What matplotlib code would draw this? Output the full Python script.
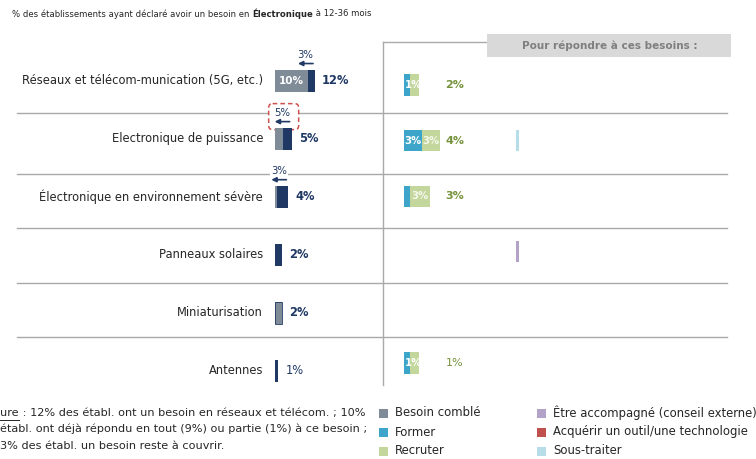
import matplotlib
matplotlib.use("Agg")
import matplotlib.pyplot as plt
from matplotlib.patches import Rectangle, FancyBboxPatch
from matplotlib.transforms import offset_copy

W, H = 756, 459
plt.rcParams['font.family'] = ['DejaVu Sans']

# ---- data -------------------------------------------------------------
categories = ["Réseaux et télécom-munication (5G, etc.)",
              "Electronique de puissance",
              "Électronique en environnement sévère",
              "Panneaux solaires",
              "Miniaturisation",
              "Antennes"]
besoin_comble = [10, 2.5, 0.7, 0, 2, 0]
besoin_restant = [2, 2.5, 3.3, 2, 0, 1]
besoin_total = [12, 5, 4, 2, 2, 1]
reste_a_couvrir = [3, 5, 3, None, None, None]

former = [1, 3, 1, 0, 0, 1]
recruter = [1.5, 3, 3.3, 0, 0, 1.5]
former_labels = ["1%", "3%", "", "", "", "1%"]
recruter_labels = ["", "3%", "3%", "", "", ""]
reponse_total = [2, 4, 3, None, None, 1]
accompagne = [0, 0, 0, 0.5, 0, 0]
acquerir = [0, 0, 0, 0, 0, 0]
sous_traiter = [0, 0.5, 0, 0, 0, 0]

legend_left = ["Besoin comblé", "Former", "Recruter"]
legend_right = ["Être accompagné (conseil externe)",
                "Acquérir un outil/une technologie", "Sous-traiter"]

# ---- colours ----------------------------------------------------------
GRAY = "#7f8b97"
NAVY = "#1f3864"
BLUE = "#3ca5c9"
GREEN = "#c3d69b"
LAV = "#b3a2c7"
RED = "#c0504d"
LBLUE = "#b7dee8"
OLIVE = "#76923c"
LINE = "#a9a9a9"
TXT = "#262626"

fig = plt.figure(figsize=(W / 100, H / 100), dpi=100)


def frac(x0, y0, x1, y1):
    return [x0 / W, 1 - y1 / H, (x1 - x0) / W, (y1 - y0) / H]


bg = fig.add_axes([0, 0, 1, 1])
bg.set_xlim(0, W)
bg.set_ylim(H, 0)
bg.axis("off")

n = len(categories)
rows = list(range(n))

# ---- left panel: needs ------------------------------------------------
axL = fig.add_axes(frac(275, 51.5, 375, 400))
axL.set_xlim(0, 30)
axL.set_ylim(n - 0.5, -0.5)
axL.axis("off")
bh = 0.38
axL.barh(rows, besoin_comble, height=bh, color=GRAY, zorder=3)
axL.barh(rows, besoin_restant, left=besoin_comble, height=bh, color=NAVY,
         zorder=3)
# the "Miniaturisation" bar carries a thin navy outline
axL.barh([4], [besoin_comble[4]], height=bh, facecolor="none",
         edgecolor=NAVY, linewidth=0.6, zorder=4)

for i, cat in enumerate(categories):
    axL.annotate(cat, xy=(0, i), xytext=(-12, 0), textcoords="offset pixels",
                 ha="right", va="center", fontsize=8.3, color=TXT)
    axL.annotate(f"{besoin_total[i]}%", xy=(besoin_total[i], i),
                 xytext=(7, 0), textcoords="offset pixels", ha="left",
                 va="center", fontsize=8.3, color=NAVY,
                 fontweight="normal" if besoin_total[i] == 1 else "bold")
    if besoin_comble[i] >= 5:
        axL.text(besoin_comble[i] / 2, i, f"{besoin_comble[i]}%",
                 ha="center", va="center", fontsize=7.5, color="white",
                 fontweight="bold", zorder=5)

# callouts: share of need still to cover
for i, r in enumerate(reste_a_couvrir):
    if r is None:
        continue
    tot = besoin_total[i]
    head = offset_copy(axL.transData, fig=fig, x=-17, y=17, units="dots")
    tail = offset_copy(axL.transData, fig=fig, x=-2, y=17, units="dots")
    axL.annotate("", xy=(tot, i), xycoords=head, xytext=(tot, i),
                 textcoords=tail,
                 arrowprops=dict(arrowstyle="-|>", color=NAVY, lw=1.2,
                                 mutation_scale=7, shrinkA=0, shrinkB=0))
    lbl = offset_copy(axL.transData, fig=fig, x=-9.5, y=26, units="dots")
    axL.text(tot, i, f"{r}%", transform=lbl, ha="center", va="center",
             fontsize=7.3, color=NAVY, zorder=6,
             bbox=dict(facecolor="white", edgecolor="none", pad=0.6))
    if i == 1:
        cx, cy = axL.transData.transform((tot, i))
        box = FancyBboxPatch((cx - 23, H - cy - 35), 30, 26,
                             boxstyle="round,pad=0,rounding_size=4",
                             facecolor="white", edgecolor="#d0504d",
                             linestyle=(0, (3, 2)), linewidth=1.1, zorder=2)
        bg.add_patch(box)

# ---- right panel: responses --------------------------------------------
axR = fig.add_axes(frac(404, 57.2, 734, 390.8))
axR.set_xlim(0, 55)
axR.set_ylim(n - 0.5, -0.5)
axR.axis("off")
axR.barh(rows, former, height=bh, color=BLUE, zorder=3)
axR.barh(rows, recruter, left=former, height=bh, color=GREEN, zorder=3)
other0 = 18.7
left = [other0] * n
for vals, col in ((accompagne, LAV), (acquerir, RED), (sous_traiter, LBLUE)):
    axR.barh(rows, vals, left=left, height=bh, color=col, zorder=3)
    left = [a + b for a, b in zip(left, vals)]

for i in rows:
    if former_labels[i]:
        if former[i] < 2:
            axR.text(0.1, i, former_labels[i], ha="left", va="center",
                     fontsize=7.3, color="white", fontweight="bold", zorder=5)
        else:
            axR.text(former[i] / 2, i, former_labels[i], ha="center",
                     va="center", fontsize=7.3, color="white",
                     fontweight="bold", zorder=5)
    if recruter_labels[i]:
        axR.text(former[i] + recruter[i] / 2, i, recruter_labels[i],
                 ha="center", va="center", fontsize=7.3, color="#f4f8ec",
                 fontweight="bold", zorder=5)
    if reponse_total[i] is not None:
        axR.text(6.9, i, f"{reponse_total[i]}%", ha="left", va="center",
                 fontsize=8, color=OLIVE,
                 fontweight="normal" if reponse_total[i] == 1 else "bold")

# ---- frame lines ----------------------------------------------------------
for yy in (113, 174, 228, 283, 337):
    bg.plot([17, 727], [yy, yy], color=LINE, lw=1, zorder=0)
bg.plot([383, 383], [42, 385], color=LINE, lw=1, zorder=0)
bg.plot([383, 487], [42, 42], color=LINE, lw=1, zorder=0)
bg.add_patch(Rectangle((487, 34), 244, 23, facecolor="#d9d9d9",
                       edgecolor="none", zorder=1))
bg.text(610, 46, "Pour répondre à ces besoins :", ha="center", va="center",
        fontsize=7.5, color="#7f7f7f", fontweight="bold", zorder=2)

# ---- title and footnote -----------------------------------------------
fig.canvas.draw()
renderer = fig.canvas.get_renderer()


def run_text(x, y, parts, size):
    """Draw consecutive text pieces on one baseline (pixel coords)."""
    for s, weight, underline in parts:
        t = bg.text(x, y, s, ha="left", va="center", fontsize=size,
                    color=TXT, fontweight=weight)
        ext = t.get_window_extent(renderer)
        if underline:
            bg.plot([x, x + ext.width], [y + 6.5, y + 6.5], color=TXT, lw=0.7)
        x += ext.width


run_text(12, 14, [("% des établissements ayant déclaré avoir un besoin en ",
                   "normal", False),
                  ("Électronique", "bold", False),
                  (" à 12-36 mois", "normal", False)], 6.1)

run_text(0, 413, [("ure", "normal", True),
                  (" : 12% des établ. ont un besoin en réseaux et télécom. ; 10%",
                   "normal", False)], 8.1)
run_text(0, 429, [("établ. ont déjà répondu en tout (9%) ou partie (1%) à ce besoin ;",
                   "normal", False)], 8.1)
run_text(0, 446, [("3% des établ. un besoin reste à couvrir.", "normal", False)],
         8.1)

# ---- legend -------------------------------------------------------------
for k, (lab, col) in enumerate(zip(legend_left, (GRAY, BLUE, GREEN))):
    yy = 413 + 19 * k
    bg.add_patch(Rectangle((379, yy - 4.5), 9, 9, facecolor=col,
                           edgecolor="none"))
    bg.text(395, yy, lab, ha="left", va="center", fontsize=8.4, color=TXT)
for k, (lab, col) in enumerate(zip(legend_right, (LAV, RED, LBLUE))):
    yy = 413 + 19 * k
    bg.add_patch(Rectangle((537, yy - 4.5), 9, 9, facecolor=col,
                           edgecolor="none"))
    bg.text(553, yy, lab, ha="left", va="center", fontsize=8.4, color=TXT)

fig.savefig("out.png", dpi=100)
